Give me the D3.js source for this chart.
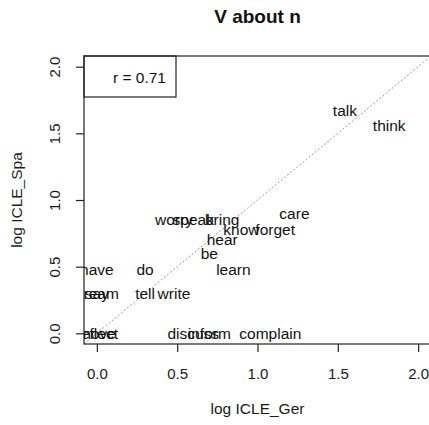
<!DOCTYPE html>
<html>
<head>
<meta charset="utf-8">
<script src="https://cdn.jsdelivr.net/npm/d3@7"></script>
<style>
    body { margin: 0; background: #fff; }
    svg { font-family: "Liberation Sans", Arial, Helvetica, sans-serif; }
</style>
</head>
<body>
<div id="chart"></div>
<script>
// verbs + "about" : log frequency in ICLE German vs ICLE Spanish
var verbs = ["talk", "think", "care", "forget", "know", "bring", "speak", "worry", "hear", "be",
    "learn", "do", "have", "tell", "write", "dream", "say", "reflect", "move", "discuss", "inform", "complain"];
var logGer = [1.544, 1.82, 1.23, 1.11, 0.90, 0.78, 0.60, 0.48, 0.78, 0.70,
    0.85, 0.30, 0.0, 0.30, 0.48, 0.0, 0.0, 0.0, 0.0, 0.60, 0.70, 1.08];
var logSpa = [1.67, 1.56, 0.90, 0.78, 0.78, 0.85, 0.85, 0.85, 0.70, 0.60,
    0.48, 0.48, 0.48, 0.30, 0.30, 0.30, 0.30, 0.0, 0.0, 0.0, 0.0, 0.0];
var xTicks = [0, 0.5, 1, 1.5, 2];
var yTicks = [0, 0.5, 1, 1.5, 2];
var corrLabel = "r = 0.71";

(function () {
    var width = 429, height = 425;
    var plot = { left: 84, right: 431, top: 56, bottom: 344 };

    var svg = d3.select("#chart")
        .append("svg")
        .attr("width", width)
        .attr("height", height);

    var x = d3.scaleLinear().domain([-0.08, 2.08]).range([plot.left, plot.right]);
    var y = d3.scaleLinear().domain([-0.08, 2.08]).range([plot.bottom, plot.top]);

    svg.append("defs").append("clipPath")
        .attr("id", "clip")
        .append("rect")
        .attr("x", plot.left)
        .attr("y", plot.top)
        .attr("width", plot.right - plot.left)
        .attr("height", plot.bottom - plot.top);

    // title
    svg.append("text")
        .attr("x", (plot.left + plot.right) / 2)
        .attr("y", 23)
        .attr("text-anchor", "middle")
        .style("font-size", "19px")
        .style("font-weight", "bold")
        .style("fill", "#111")
        .text("V about n");

    // x axis
    var xAxis = svg.append("g")
        .attr("transform", "translate(0," + plot.bottom + ")")
        .call(d3.axisBottom(x).tickValues(xTicks).tickFormat(d3.format(".1f")).tickSize(8).tickPadding(16));
    xAxis.select(".domain").remove();
    xAxis.selectAll("line").attr("stroke", "#222").attr("stroke-width", 1.2);
    xAxis.selectAll("text").style("font-size", "15px").style("fill", "#1a1a1a").attr("font-family", null);

    // y axis, labels turned like R's las = 0
    var yAxis = svg.append("g")
        .attr("transform", "translate(" + plot.left + ",0)")
        .call(d3.axisLeft(y).tickValues(yTicks).tickFormat(d3.format(".1f")).tickSize(8));
    yAxis.select(".domain").remove();
    yAxis.selectAll("line").attr("stroke", "#222").attr("stroke-width", 1.2);
    yAxis.selectAll("text")
        .attr("x", 0)
        .attr("dy", null)
        .attr("transform", "translate(-30,0) rotate(-90)")
        .attr("text-anchor", "middle")
        .attr("dominant-baseline", "central")
        .attr("font-family", null)
        .style("font-size", "15px")
        .style("fill", "#1a1a1a");

    // axis titles
    svg.append("text")
        .attr("x", (plot.left + plot.right) / 2)
        .attr("y", 414)
        .attr("text-anchor", "middle")
        .style("font-size", "15.5px")
        .style("fill", "#1a1a1a")
        .text("log ICLE_Ger");

    svg.append("text")
        .attr("transform", "translate(22," + (plot.top + plot.bottom) / 2 + ") rotate(-90)")
        .attr("text-anchor", "middle")
        .style("font-size", "15.5px")
        .style("fill", "#1a1a1a")
        .text("log ICLE_Spa");

    var inner = svg.append("g").attr("clip-path", "url(#clip)");

    // y = x reference line
    inner.append("line")
        .attr("x1", x(-0.08)).attr("y1", y(-0.08))
        .attr("x2", x(2.08)).attr("y2", y(2.08))
        .attr("stroke", "#9a9a9a")
        .attr("stroke-width", 1)
        .attr("stroke-dasharray", "2,2");

    // the words themselves
    inner.selectAll(".verb")
        .data(verbs)
        .enter().append("text")
        .attr("class", "verb")
        .attr("x", (d, i) => x(logGer[i]))
        .attr("y", (d, i) => y(logSpa[i]))
        .attr("dy", "0.35em")
        .attr("text-anchor", "middle")
        .style("font-size", "15.5px")
        .style("fill", "#111")
        .text(d => d);

    // legend box with correlation
    svg.append("rect")
        .attr("x", plot.left)
        .attr("y", plot.top)
        .attr("width", 92)
        .attr("height", 41)
        .attr("fill", "none")
        .attr("stroke", "#222")
        .attr("stroke-width", 1.2);

    svg.append("text")
        .attr("x", plot.left + 82)
        .attr("y", plot.top + 27)
        .attr("text-anchor", "end")
        .style("font-size", "15.5px")
        .style("fill", "#111")
        .text(corrLabel);

    // plot frame
    svg.append("rect")
        .attr("x", plot.left)
        .attr("y", plot.top)
        .attr("width", plot.right - plot.left)
        .attr("height", plot.bottom - plot.top)
        .attr("fill", "none")
        .attr("stroke", "#222")
        .attr("stroke-width", 1.2);
})()
</script>
</body>
</html>
